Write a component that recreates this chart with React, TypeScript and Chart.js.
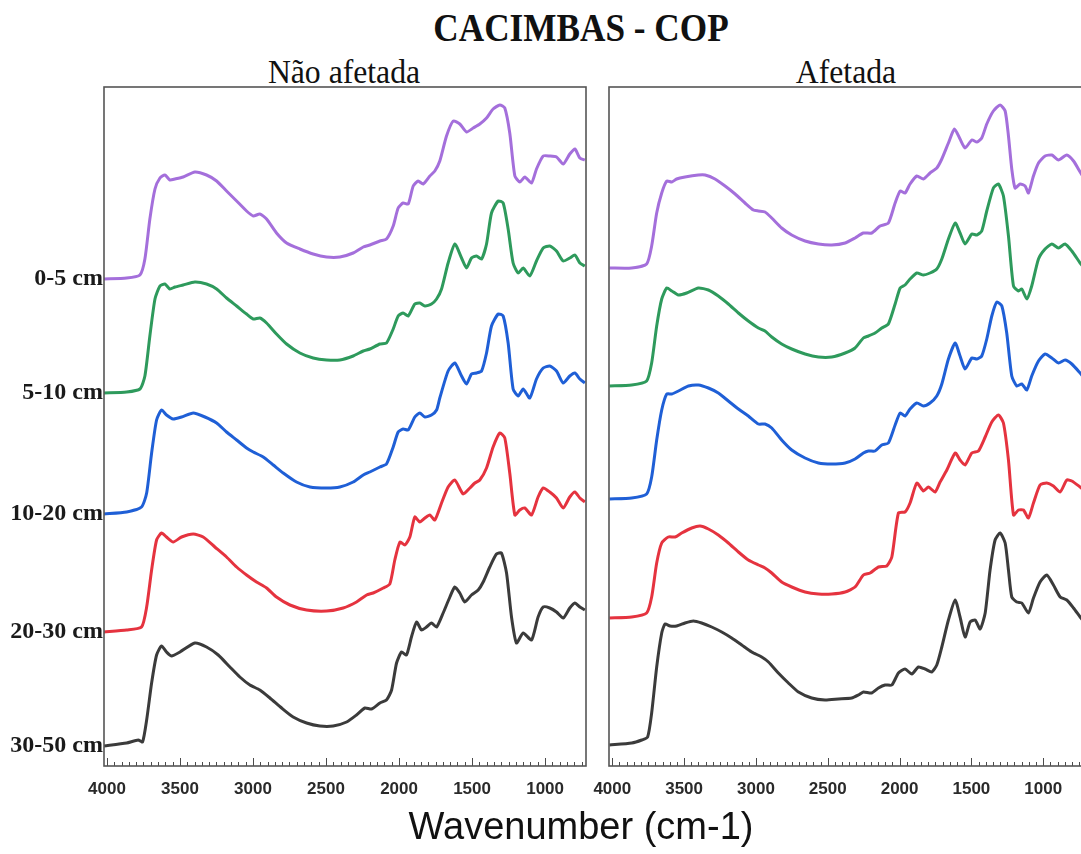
import { useEffect, useRef } from 'react';
import { Chart, registerables } from 'chart.js';

Chart.register(...registerables);

// Soil depth layers, stacked from top to bottom in each panel
const depthLabels = ['0-5 cm', '5-10 cm', '10-20 cm', '20-30 cm', '30-50 cm'];
const depthColors = ['#a46fdb', '#2e9a5c', '#1f5fd6', '#e5333f', '#3b3b3b'];

const xTickValues = [4000, 3500, 3000, 2500, 2000, 1500, 1000];

// FTIR spectra, [wavenumber (cm-1), absorbance with stacking offset]
// Não afetada
const naoAfetada0a5: [number, number][] = [
  [4020, 4.87], [3865, 4.88], [3774, 4.91], [3740, 5.07], [3706, 5.47], [3671, 5.77], [3637, 5.88],
  [3603, 5.91], [3569, 5.86], [3534, 5.87], [3478, 5.89], [3398, 5.94], [3318, 5.91], [3249, 5.85],
  [3181, 5.75], [3112, 5.65], [3044, 5.55], [2998, 5.5], [2953, 5.52], [2907, 5.47], [2839, 5.33],
  [2770, 5.23], [2679, 5.17], [2588, 5.12], [2496, 5.09], [2405, 5.09], [2314, 5.13], [2245, 5.19],
  [2200, 5.21], [2131, 5.25], [2086, 5.27], [2040, 5.4], [2006, 5.58], [1972, 5.63], [1937, 5.62],
  [1903, 5.8], [1869, 5.85], [1835, 5.82], [1789, 5.9], [1755, 5.95], [1721, 6.05], [1675, 6.3],
  [1629, 6.45], [1584, 6.42], [1538, 6.34], [1492, 6.38], [1447, 6.42], [1401, 6.48], [1356, 6.57],
  [1310, 6.61], [1276, 6.58], [1242, 6.33], [1207, 5.9], [1173, 5.84], [1139, 5.89], [1093, 5.83],
  [1059, 5.97], [1013, 6.1], [968, 6.1], [922, 6.09], [876, 6.02], [831, 6.12], [796, 6.17],
  [762, 6.08], [728, 6.06],
];
const naoAfetada5a10: [number, number][] = [
  [4020, 3.73], [3865, 3.74], [3774, 3.77], [3740, 3.9], [3706, 4.3], [3671, 4.67], [3637, 4.8],
  [3603, 4.82], [3569, 4.77], [3534, 4.79], [3478, 4.81], [3398, 4.84], [3318, 4.82], [3249, 4.77],
  [3181, 4.68], [3112, 4.6], [3044, 4.52], [2998, 4.47], [2953, 4.48], [2907, 4.43], [2839, 4.32],
  [2770, 4.22], [2679, 4.13], [2588, 4.08], [2496, 4.06], [2405, 4.06], [2314, 4.1], [2245, 4.15],
  [2200, 4.17], [2131, 4.22], [2086, 4.23], [2040, 4.37], [2006, 4.5], [1972, 4.53], [1937, 4.5],
  [1892, 4.62], [1858, 4.63], [1823, 4.6], [1778, 4.62], [1743, 4.67], [1709, 4.77], [1664, 5.03],
  [1618, 5.22], [1572, 5.08], [1538, 4.98], [1504, 5.08], [1470, 5.1], [1435, 5.07], [1401, 5.22],
  [1367, 5.53], [1321, 5.65], [1287, 5.63], [1253, 5.37], [1219, 5.03], [1184, 4.93], [1150, 4.98],
  [1105, 4.9], [1059, 5.05], [1013, 5.18], [968, 5.2], [922, 5.15], [876, 5.05], [831, 5.08],
  [796, 5.11], [762, 5.03], [728, 5.0],
];
const naoAfetada10a20: [number, number][] = [
  [4020, 2.52], [3865, 2.54], [3763, 2.59], [3728, 2.73], [3694, 3.13], [3660, 3.46], [3626, 3.56],
  [3592, 3.51], [3546, 3.47], [3489, 3.49], [3409, 3.53], [3329, 3.49], [3249, 3.43], [3181, 3.34],
  [3112, 3.26], [3044, 3.18], [2998, 3.14], [2930, 3.09], [2861, 3.01], [2793, 2.93], [2702, 2.84],
  [2610, 2.79], [2496, 2.78], [2405, 2.79], [2314, 2.84], [2245, 2.91], [2200, 2.94], [2131, 2.99],
  [2086, 3.02], [2040, 3.19], [2006, 3.34], [1972, 3.37], [1937, 3.36], [1892, 3.49], [1858, 3.53],
  [1823, 3.49], [1778, 3.51], [1743, 3.56], [1721, 3.68], [1664, 3.95], [1618, 4.03], [1572, 3.9],
  [1538, 3.82], [1504, 3.92], [1470, 3.93], [1435, 3.95], [1401, 4.13], [1367, 4.4], [1321, 4.52],
  [1287, 4.5], [1253, 4.23], [1219, 3.77], [1184, 3.7], [1150, 3.77], [1105, 3.68], [1059, 3.87],
  [1013, 3.98], [968, 4.0], [922, 3.95], [876, 3.83], [831, 3.9], [796, 3.93], [762, 3.87],
  [728, 3.83],
];
const naoAfetada20a30: [number, number][] = [
  [4020, 1.34], [3865, 1.36], [3763, 1.39], [3728, 1.59], [3694, 1.96], [3660, 2.26], [3626, 2.33],
  [3592, 2.29], [3546, 2.24], [3489, 2.29], [3409, 2.32], [3341, 2.29], [3261, 2.19], [3181, 2.09],
  [3112, 1.99], [3044, 1.91], [2976, 1.84], [2907, 1.78], [2839, 1.69], [2747, 1.61], [2633, 1.56],
  [2496, 1.55], [2382, 1.58], [2291, 1.64], [2222, 1.71], [2177, 1.73], [2108, 1.78], [2063, 1.82],
  [2029, 2.06], [1994, 2.24], [1960, 2.21], [1926, 2.29], [1892, 2.49], [1858, 2.44], [1823, 2.48],
  [1789, 2.51], [1755, 2.46], [1709, 2.63], [1664, 2.79], [1618, 2.86], [1561, 2.72], [1515, 2.78],
  [1481, 2.83], [1447, 2.86], [1401, 2.98], [1356, 3.19], [1310, 3.33], [1276, 3.28], [1242, 2.93],
  [1207, 2.51], [1173, 2.56], [1139, 2.58], [1093, 2.51], [1048, 2.69], [1013, 2.78], [968, 2.74],
  [922, 2.68], [876, 2.58], [831, 2.69], [796, 2.74], [762, 2.68], [728, 2.64],
];
const naoAfetada30a50: [number, number][] = [
  [4020, 0.2], [3865, 0.23], [3786, 0.26], [3756, 0.24], [3728, 0.46], [3694, 0.83], [3660, 1.11],
  [3626, 1.2], [3592, 1.14], [3557, 1.1], [3500, 1.14], [3398, 1.23], [3318, 1.19], [3238, 1.11],
  [3158, 0.99], [3090, 0.89], [3021, 0.81], [2953, 0.76], [2884, 0.68], [2804, 0.58], [2725, 0.49],
  [2633, 0.43], [2542, 0.4], [2451, 0.4], [2359, 0.44], [2291, 0.51], [2234, 0.58], [2188, 0.57],
  [2131, 0.63], [2086, 0.66], [2051, 0.76], [2017, 1.03], [1983, 1.14], [1949, 1.11], [1915, 1.29],
  [1880, 1.44], [1846, 1.36], [1812, 1.39], [1778, 1.43], [1743, 1.39], [1698, 1.53], [1652, 1.69],
  [1618, 1.79], [1584, 1.73], [1550, 1.64], [1504, 1.71], [1458, 1.76], [1424, 1.84], [1379, 1.99],
  [1333, 2.12], [1299, 2.13], [1264, 1.93], [1230, 1.49], [1196, 1.23], [1150, 1.33], [1093, 1.26],
  [1048, 1.49], [1013, 1.59], [968, 1.58], [922, 1.54], [876, 1.48], [831, 1.58], [796, 1.63],
  [762, 1.59], [728, 1.56],
];

// Afetada
const afetada0a5: [number, number][] = [
  [4020, 4.98], [3865, 4.98], [3761, 5.02], [3726, 5.2], [3691, 5.53], [3656, 5.73], [3621, 5.85],
  [3586, 5.84], [3552, 5.87], [3494, 5.89], [3401, 5.91], [3354, 5.91], [3285, 5.87], [3215, 5.8],
  [3145, 5.72], [3076, 5.63], [3018, 5.56], [2983, 5.55], [2937, 5.54], [2890, 5.48], [2821, 5.38],
  [2751, 5.31], [2658, 5.25], [2565, 5.22], [2472, 5.21], [2379, 5.23], [2310, 5.28], [2252, 5.33],
  [2194, 5.33], [2136, 5.4], [2078, 5.43], [2031, 5.63], [1996, 5.75], [1962, 5.73], [1927, 5.82],
  [1880, 5.9], [1834, 5.87], [1788, 5.93], [1741, 5.98], [1706, 6.07], [1660, 6.23], [1618, 6.37],
  [1579, 6.27], [1544, 6.18], [1497, 6.26], [1462, 6.24], [1428, 6.28], [1393, 6.42], [1347, 6.55],
  [1300, 6.61], [1265, 6.55], [1242, 6.3], [1219, 5.97], [1196, 5.78], [1161, 5.82], [1126, 5.8],
  [1103, 5.73], [1068, 5.9], [1033, 6.03], [987, 6.1], [940, 6.11], [894, 6.06], [836, 6.11],
  [789, 6.05], [743, 5.94], [726, 5.9],
];
const afetada5a10: [number, number][] = [
  [4020, 3.8], [3865, 3.81], [3761, 3.85], [3726, 4.03], [3691, 4.4], [3656, 4.67], [3621, 4.78],
  [3586, 4.75], [3540, 4.71], [3482, 4.73], [3401, 4.78], [3331, 4.76], [3262, 4.7], [3192, 4.62],
  [3122, 4.53], [3053, 4.45], [2983, 4.38], [2937, 4.35], [2890, 4.29], [2821, 4.22], [2751, 4.17],
  [2658, 4.12], [2565, 4.09], [2472, 4.09], [2379, 4.13], [2310, 4.18], [2252, 4.28], [2217, 4.3],
  [2171, 4.33], [2124, 4.38], [2078, 4.42], [2031, 4.62], [1996, 4.78], [1962, 4.81], [1927, 4.87],
  [1880, 4.93], [1834, 4.91], [1788, 4.93], [1741, 4.97], [1706, 5.07], [1660, 5.27], [1613, 5.43],
  [1579, 5.33], [1544, 5.22], [1497, 5.32], [1462, 5.31], [1428, 5.35], [1393, 5.55], [1347, 5.78],
  [1312, 5.82], [1277, 5.7], [1242, 5.3], [1207, 4.8], [1172, 4.75], [1149, 4.77], [1114, 4.67],
  [1080, 4.8], [1033, 5.07], [987, 5.17], [940, 5.22], [894, 5.18], [848, 5.22], [801, 5.15],
  [743, 5.03], [726, 5.0],
];
const afetada10a20: [number, number][] = [
  [4020, 2.67], [3865, 2.68], [3761, 2.72], [3726, 2.89], [3691, 3.26], [3656, 3.56], [3621, 3.72],
  [3586, 3.72], [3540, 3.75], [3470, 3.8], [3401, 3.81], [3331, 3.78], [3262, 3.73], [3192, 3.65],
  [3122, 3.57], [3053, 3.5], [2983, 3.42], [2937, 3.42], [2890, 3.38], [2821, 3.26], [2751, 3.16],
  [2658, 3.08], [2565, 3.03], [2472, 3.02], [2379, 3.03], [2310, 3.07], [2252, 3.13], [2217, 3.15],
  [2171, 3.15], [2124, 3.21], [2078, 3.23], [2031, 3.41], [1996, 3.53], [1962, 3.5], [1927, 3.57],
  [1880, 3.63], [1834, 3.6], [1788, 3.63], [1741, 3.7], [1706, 3.82], [1660, 4.07], [1613, 4.23],
  [1579, 4.1], [1544, 3.97], [1497, 4.08], [1462, 4.07], [1428, 4.1], [1393, 4.27], [1358, 4.5],
  [1323, 4.64], [1288, 4.6], [1254, 4.33], [1219, 3.9], [1184, 3.8], [1149, 3.82], [1114, 3.76],
  [1080, 3.9], [1033, 4.05], [987, 4.12], [940, 4.08], [894, 4.03], [848, 4.06], [801, 4.02],
  [743, 3.93], [726, 3.9],
];
const afetada20a30: [number, number][] = [
  [4020, 1.48], [3865, 1.49], [3761, 1.53], [3726, 1.69], [3691, 2.03], [3656, 2.23], [3610, 2.29],
  [3563, 2.29], [3517, 2.33], [3447, 2.38], [3389, 2.4], [3331, 2.37], [3262, 2.31], [3192, 2.23],
  [3122, 2.14], [3053, 2.06], [2983, 2.01], [2937, 1.98], [2890, 1.93], [2821, 1.84], [2751, 1.79],
  [2658, 1.74], [2565, 1.72], [2472, 1.72], [2379, 1.74], [2310, 1.79], [2252, 1.91], [2205, 1.93],
  [2147, 1.99], [2089, 2.0], [2054, 2.09], [2008, 2.53], [1962, 2.54], [1927, 2.63], [1880, 2.83],
  [1834, 2.75], [1799, 2.79], [1753, 2.74], [1718, 2.84], [1671, 2.96], [1613, 3.13], [1579, 3.06],
  [1544, 3.01], [1497, 3.13], [1451, 3.15], [1404, 3.29], [1358, 3.44], [1312, 3.51], [1277, 3.43],
  [1242, 3.06], [1207, 2.51], [1172, 2.56], [1138, 2.56], [1103, 2.48], [1068, 2.63], [1022, 2.81],
  [975, 2.83], [929, 2.8], [882, 2.74], [836, 2.86], [801, 2.85], [743, 2.79], [726, 2.77],
];
const afetada30a50: [number, number][] = [
  [4020, 0.21], [3865, 0.23], [3795, 0.26], [3754, 0.29], [3726, 0.53], [3691, 0.99], [3656, 1.33],
  [3633, 1.42], [3598, 1.4], [3552, 1.4], [3494, 1.43], [3436, 1.45], [3378, 1.43], [3308, 1.39],
  [3238, 1.34], [3169, 1.28], [3099, 1.21], [3029, 1.14], [2960, 1.09], [2913, 1.04], [2844, 0.93],
  [2774, 0.83], [2704, 0.74], [2612, 0.68], [2519, 0.66], [2426, 0.67], [2333, 0.68], [2287, 0.71],
  [2252, 0.74], [2194, 0.73], [2147, 0.78], [2101, 0.81], [2054, 0.81], [2008, 0.93], [1962, 0.97],
  [1915, 0.92], [1869, 0.99], [1822, 0.97], [1776, 0.94], [1741, 1.01], [1706, 1.19], [1660, 1.46],
  [1613, 1.66], [1579, 1.49], [1544, 1.29], [1509, 1.44], [1474, 1.46], [1439, 1.37], [1404, 1.53],
  [1370, 1.96], [1335, 2.26], [1300, 2.33], [1265, 2.23], [1242, 1.96], [1219, 1.69], [1184, 1.64],
  [1149, 1.63], [1103, 1.53], [1068, 1.68], [1022, 1.84], [975, 1.91], [929, 1.81], [882, 1.69],
  [836, 1.66], [789, 1.58], [743, 1.49], [726, 1.46],
];

const naoAfetadaSeries = [naoAfetada0a5, naoAfetada5a10, naoAfetada10a20, naoAfetada20a30, naoAfetada30a50];
const afetadaSeries = [afetada0a5, afetada5a10, afetada10a20, afetada20a30, afetada30a50];

const SERIF = '"Liberation Serif", "Times New Roman", serif';
const SANS = '"Liberation Sans", Arial, sans-serif';

const CANVAS_W = 1090;
const CANVAS_H = 730;

// Panel frame with inward tick marks (major every 500, minor every 50)
const frameTicks = {
  id: 'frameTicks',
  afterDatasetsDraw(chart: any) {
    const { ctx, chartArea: a, scales } = chart;
    const xs = scales.x;
    ctx.save();
    ctx.strokeStyle = '#4a4a4a';
    ctx.lineWidth = 1;
    for (let v = 4000; v > xs.min; v -= 50) {
      const px = Math.round(xs.getPixelForValue(v)) + 0.5;
      const len = v % 500 === 0 ? 8 : 4;
      ctx.beginPath();
      ctx.moveTo(px, a.bottom);
      ctx.lineTo(px, a.bottom - len);
      ctx.stroke();
    }
    ctx.lineWidth = 1.6;
    ctx.strokeStyle = '#555';
    ctx.strokeRect(a.left, a.top, a.right - a.left, a.bottom - a.top);
    ctx.restore();
  },
};

function buildConfig(series: [number, number][][], xMin: number, xMax: number, withDepthAxis: boolean, padding: any) {
  return {
    type: 'line',
    data: {
      datasets: series.map((s, i) => ({
        label: depthLabels[i],
        data: s.map(([x, y]) => ({ x, y })),
        borderColor: depthColors[i],
        borderWidth: 3,
        pointRadius: 0,
        tension: 0.2,
        fill: false,
      })),
    },
    options: {
      responsive: false,
      animation: false,
      events: [],
      layout: { padding },
      plugins: { legend: { display: false }, tooltip: { enabled: false }, title: { display: false } },
      scales: {
        x: {
          type: 'linear',
          reverse: true,
          min: xMin,
          max: xMax,
          afterBuildTicks: (s: any) => {
            s.ticks = xTickValues.map((value) => ({ value }));
          },
          afterFit: (s: any) => {
            s.height = 44;
            s.paddingLeft = 0;
            s.paddingRight = 0;
          },
          grid: { display: false, drawTicks: false },
          border: { display: false },
          ticks: {
            autoSkip: false,
            maxRotation: 0,
            padding: 13,
            color: '#2a2a2a',
            font: { family: SANS, size: 17, weight: 'bold' },
            callback: (v: number) => String(v),
          },
        },
        y: {
          display: withDepthAxis,
          min: 0,
          max: 6.79,
          afterBuildTicks: (s: any) => {
            s.ticks = naoAfetadaSeries.map((d) => ({ value: d[0][1] }));
          },
          afterFit: (s: any) => {
            if (withDepthAxis) s.width = 104;
            s.paddingTop = 0;
            s.paddingBottom = 0;
          },
          grid: { display: false, drawTicks: false },
          border: { display: false },
          ticks: {
            padding: 1,
            color: '#1a1a1a',
            font: { family: SERIF, size: 24, weight: 'bold' },
            callback: (_v: number, i: number) => depthLabels[i],
          },
        },
      },
    },
    plugins: [frameTicks],
  };
}

export default function App() {
  const leftRef = useRef<HTMLCanvasElement>(null);
  const rightRef = useRef<HTMLCanvasElement>(null);

  useEffect(() => {
    const left = new Chart(
      leftRef.current as HTMLCanvasElement,
      buildConfig(naoAfetadaSeries, 720, 4020, true, { left: 0, right: CANVAS_W - 586, top: 7, bottom: 0 }) as any
    );
    const right = new Chart(
      rightRef.current as HTMLCanvasElement,
      buildConfig(afetadaSeries, 730, 4023, false, { left: 609, right: CANVAS_W - 1082, top: 7, bottom: 0 }) as any
    );
    return () => {
      left.destroy();
      right.destroy();
    };
  }, []);

  const text = (content: string, x: number, y: number, font: string, sx = 1) => (
    <div
      style={{
        position: 'absolute',
        left: x,
        top: y,
        transform: `translate(-50%, -50%) scaleX(${sx})`,
        font,
        lineHeight: 1,
        whiteSpace: 'nowrap',
        color: '#111',
      }}
    >
      {content}
    </div>
  );

  return (
    <div
      style={{
        position: 'absolute',
        left: 0,
        top: 0,
        width: 1081,
        height: 854,
        overflow: 'hidden',
        background: '#fff',
      }}
    >
      {text('CACIMBAS - COP', 581, 28, `bold 40px ${SERIF}`, 0.88)}
      {text('Não afetada', 344, 72, `33px ${SERIF}`, 0.96)}
      {text('Afetada', 846, 72, `33px ${SERIF}`, 0.96)}
      <canvas ref={leftRef} width={CANVAS_W} height={CANVAS_H} style={{ position: 'absolute', left: 0, top: 80 }} />
      <canvas ref={rightRef} width={CANVAS_W} height={CANVAS_H} style={{ position: 'absolute', left: 0, top: 80 }} />
      {text('Wavenumber (cm-1)', 581, 826, `38px ${SANS}`)}
    </div>
  );
}
